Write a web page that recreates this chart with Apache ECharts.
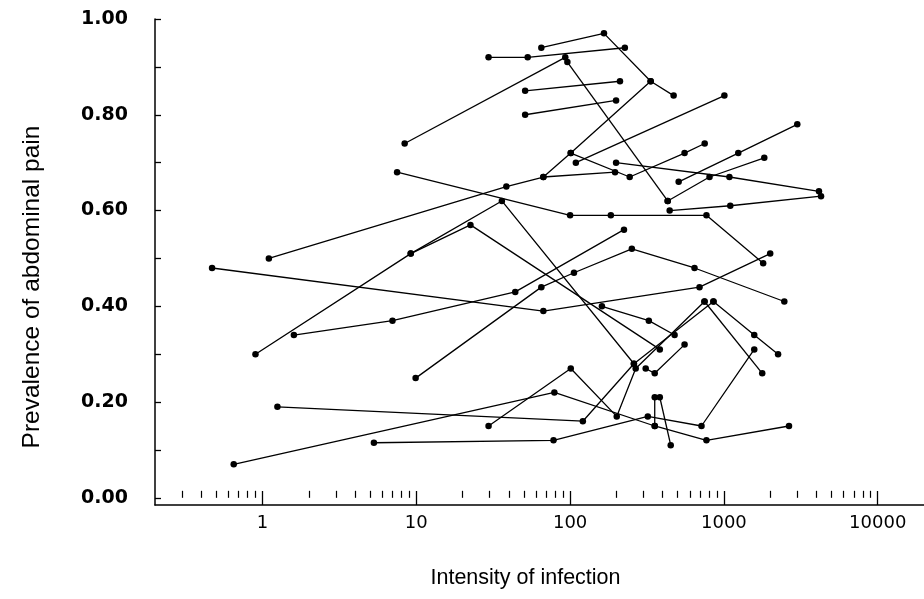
<!DOCTYPE html>
<html>
<head>
<meta charset="utf-8">
<script src="https://cdn.jsdelivr.net/npm/echarts@6/dist/echarts.min.js"></script>
<style>
  html, body { margin: 0; padding: 0; background: #fff; }
  #chart { width: 924px; height: 599px; }
</style>
</head>
<body>
<div id="chart"></div>
<script>
// Axis tick positions
const xMajorTicks = [1, 10, 100, 1000, 10000];
const xMinorTicks = [0.3, 0.4, 0.5, 0.6, 0.7, 0.8, 0.9,
  2, 3, 4, 5, 6, 7, 8, 9,
  20, 30, 40, 50, 60, 70, 80, 90,
  200, 300, 400, 500, 600, 700, 800, 900,
  2000, 3000, 4000, 5000, 6000, 7000, 8000, 9000];
const yLabelValues = [0, 0.2, 0.4, 0.6, 0.8, 1.0];
const yTickValues = [0, 0.1, 0.2, 0.3, 0.4, 0.5, 0.6, 0.7, 0.8, 0.9, 1.0];

// One entry per study: mean intensity of infection (eggs per gram)
const intensity = [
  [65, 166, 334, 471],
  [29.5, 53, 227],
  [8.4, 93],
  [96, 431],
  [51, 211],
  [51, 199],
  [67, 101, 334],
  [109, 1007],
  [1.1, 38.5, 67, 196],
  [101, 244, 555, 750],
  [199, 1086, 4150],
  [508, 1240, 3000],
  [431, 806, 1830],
  [444, 1100, 4280],
  [7.5, 100, 184, 770, 1800],
  [0.9, 9.2, 36, 260],
  [9.2, 22.5, 383],
  [9.9, 65, 106, 252, 644, 2470],
  [1.6, 7.0, 44, 224],
  [0.47, 67, 694, 2000],
  [0.65, 79, 355, 770, 2650],
  [5.3, 78, 320, 715, 1575],
  [29.5, 101, 201, 267, 748],
  [1.25, 121, 260, 855],
  [161, 325, 478],
  [855, 1575, 2250],
  [748, 1775],
  [355, 355],
  [383, 451],
  [310, 355, 555]
];

// Matching prevalence of abdominal pain for each study
const prevalence = [
  [0.94, 0.97, 0.87, 0.84],
  [0.92, 0.92, 0.94],
  [0.74, 0.92],
  [0.91, 0.62],
  [0.85, 0.87],
  [0.80, 0.83],
  [0.67, 0.72, 0.87],
  [0.70, 0.84],
  [0.50, 0.65, 0.67, 0.68],
  [0.72, 0.67, 0.72, 0.74],
  [0.70, 0.67, 0.64],
  [0.66, 0.72, 0.78],
  [0.62, 0.67, 0.71],
  [0.60, 0.61, 0.63],
  [0.68, 0.59, 0.59, 0.59, 0.49],
  [0.30, 0.51, 0.62, 0.28],
  [0.51, 0.57, 0.31],
  [0.25, 0.44, 0.47, 0.52, 0.48, 0.41],
  [0.34, 0.37, 0.43, 0.56],
  [0.48, 0.39, 0.44, 0.51],
  [0.07, 0.22, 0.15, 0.12, 0.15],
  [0.115, 0.12, 0.17, 0.15, 0.31],
  [0.15, 0.27, 0.17, 0.27, 0.41],
  [0.19, 0.16, 0.28, 0.41],
  [0.40, 0.37, 0.34],
  [0.41, 0.34, 0.30],
  [0.41, 0.26],
  [0.21, 0.15],
  [0.21, 0.11],
  [0.27, 0.26, 0.32]
];

const SANS = 'Liberation Sans, Arial, sans-serif';
const WIDE = 'DejaVu Sans, Verdana, sans-serif';

const series = intensity.map((xs, i) => ({
  type: 'line',
  xAxisIndex: 0,
  yAxisIndex: 0,
  data: xs.map((x, j) => [x, prevalence[i][j]]),
  symbol: 'circle',
  symbolSize: 6.5,
  showSymbol: true,
  lineStyle: { color: '#000', width: 1.3 },
  itemStyle: { color: '#000' },
  emphasis: { disabled: true },
  animation: false,
  z: 3
}));

const chart = echarts.init(document.getElementById('chart'), null, { renderer: 'canvas' });
chart.setOption({
  backgroundColor: '#fff',
  animation: false,
  grid: { left: 155, top: 19, width: 772.5, bottom: 94, containLabel: false },
  xAxis: [
    {
      type: 'log',
      logBase: 10,
      min: 0.2,
      max: 20000,
      name: 'Intensity of infection',
      nameLocation: 'middle',
      nameGap: 62,
      nameTextStyle: { fontFamily: SANS, fontSize: 21.5, color: '#000', padding: [0, 28, 0, 0] },
      axisLine: { show: true, onZero: false, lineStyle: { color: '#000', width: 1.5 } },
      axisTick: { show: true, inside: true, length: 14, customValues: xMajorTicks, lineStyle: { color: '#000', width: 1.3 } },
      axisLabel: { show: true, customValues: xMajorTicks, margin: 9, fontFamily: WIDE, fontSize: 18, color: '#000',
        formatter: v => String(Math.round(v)) },
      splitLine: { show: false },
      minorTick: { show: false }
    },
    {
      type: 'log',
      logBase: 10,
      min: 0.2,
      max: 20000,
      position: 'bottom',
      axisLine: { show: false },
      axisTick: { show: true, inside: true, length: 7, customValues: xMinorTicks, lineStyle: { color: '#000', width: 1.2 } },
      axisLabel: { show: false },
      splitLine: { show: false }
    }
  ],
  yAxis: {
    type: 'value',
    min: -0.015,
    max: 1.0,
    name: 'Prevalence of abdominal pain',
    nameLocation: 'middle',
    nameGap: 110,
    nameRotate: 90,
    nameTextStyle: { fontFamily: SANS, fontSize: 24.5, color: '#000', padding: [0, 50, 0, 0] },
    axisLine: { show: true, lineStyle: { color: '#000', width: 1.5 } },
    axisTick: { show: true, inside: true, length: 6, customValues: yTickValues, lineStyle: { color: '#000', width: 1.3 } },
    axisLabel: { show: true, customValues: yLabelValues, margin: 27, fontFamily: WIDE, fontSize: 19, fontWeight: 'bold', color: '#000',
      formatter: v => v.toFixed(2) },
    splitLine: { show: false }
  },
  series: series
});
</script>
</body>
</html>
